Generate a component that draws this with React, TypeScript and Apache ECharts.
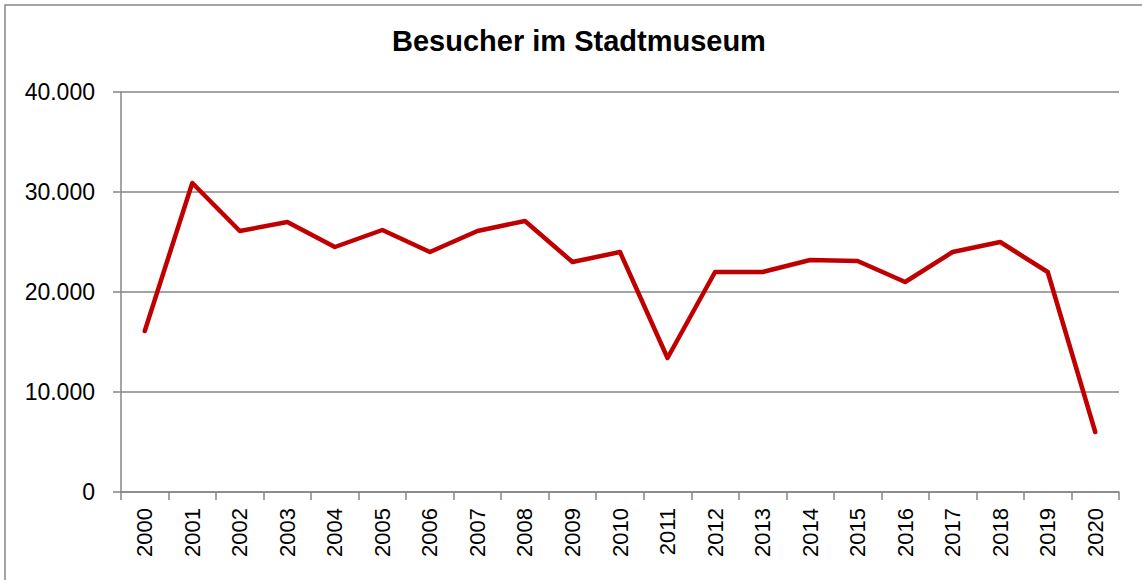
import React, { useEffect, useRef } from "react";
import * as echarts from "echarts";

const years = ["2000","2001","2002","2003","2004","2005","2006","2007","2008","2009","2010","2011","2012","2013","2014","2015","2016","2017","2018","2019","2020"];
const visitors = [16100, 30900, 26100, 27000, 24500, 26200, 24000, 26100, 27100, 23000, 24000, 13400, 22000, 22000, 23200, 23100, 21000, 24000, 25000, 22000, 6000];
const chartTitle = "Besucher im Stadtmuseum";

export default function App() {
  const ref = useRef<HTMLDivElement>(null);
  useEffect(() => {
    if (!ref.current) return;
    const chart = echarts.init(ref.current, null, { renderer: "svg" });
    const axisColor = "#868686";
    chart.setOption({
      animation: false,
      backgroundColor: "#ffffff",
      title: {
        text: chartTitle,
        left: 387,
        top: 21,
        textStyle: { fontFamily: "Liberation Sans, Arial", fontWeight: "bold", fontSize: 29, color: "#000" },
      },
      graphic: [
        {
          type: "rect",
          shape: { x: 5, y: 5, width: 1150, height: 590 },
          style: { fill: "none", stroke: axisColor, lineWidth: 1.5 },
          silent: true,
        },
      ],
      grid: { left: 121, right: 23, top: 92, bottom: 88, containLabel: false },
      xAxis: {
        type: "category",
        data: years,
        boundaryGap: true,
        axisLine: { show: true, lineStyle: { color: axisColor, width: 1.5 } },
        axisTick: { show: true, length: 8, alignWithLabel: false, interval: 0, lineStyle: { color: axisColor, width: 1.5 } },
        axisLabel: {
          interval: 0,
          rotate: 90,
          margin: 16,
          fontFamily: "Liberation Sans, Arial",
          fontSize: 22,
          color: "#000",
        },
        splitLine: { show: false },
      },
      yAxis: {
        type: "value",
        min: 0,
        max: 40000,
        interval: 10000,
        axisLine: { show: true, lineStyle: { color: axisColor, width: 1.5 } },
        axisTick: { show: true, length: 8, lineStyle: { color: axisColor, width: 1.5 } },
        axisLabel: {
          margin: 26,
          fontFamily: "Liberation Sans, Arial",
          fontSize: 23,
          color: "#000",
          formatter: (v: number) => (v === 0 ? "0" : v.toLocaleString("de-DE")),
        },
        splitLine: { show: true, lineStyle: { color: axisColor, width: 1.5 } },
      },
      series: [
        {
          type: "line",
          data: visitors,
          symbol: "none",
          lineStyle: { color: "#C00000", width: 4.5, join: "round", cap: "round" },
          itemStyle: { color: "#C00000" },
        },
      ],
    });
    return () => chart.dispose();
  }, []);
  return <div ref={ref} style={{ position: "fixed", left: 0, top: 0, width: 1142, height: 580 }} />;
}
